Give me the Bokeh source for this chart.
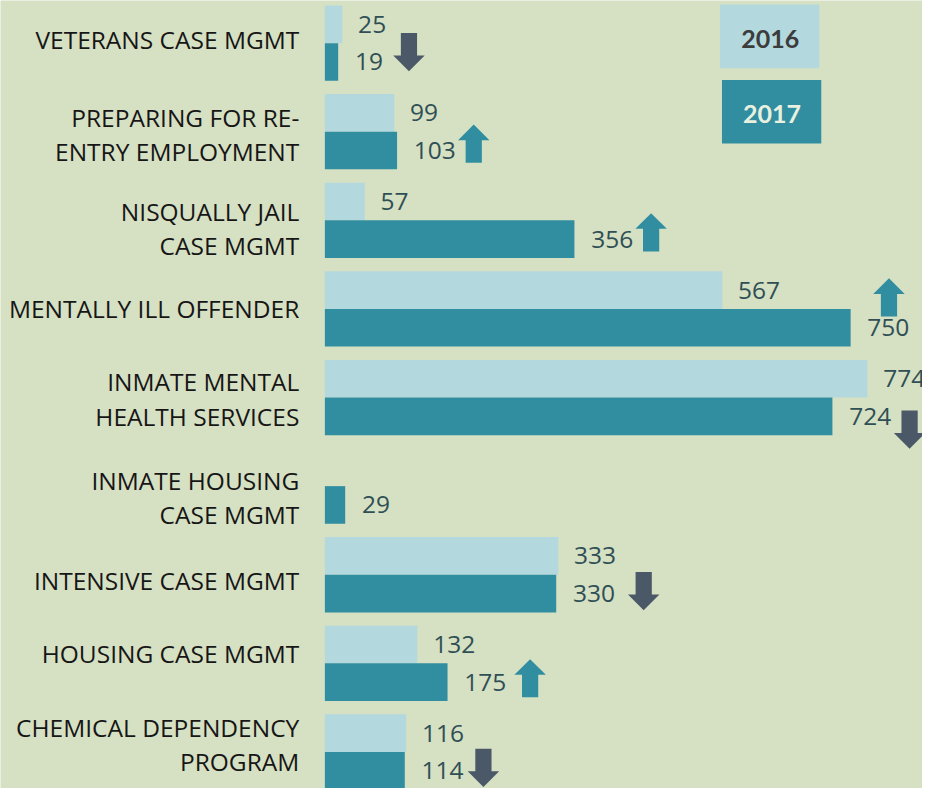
from bokeh.plotting import figure
from bokeh.models import Range1d, ColumnDataSource
from bokeh.core.properties import value
from bokeh.embed import file_html
from bokeh.resources import INLINE

# ---------------- data ----------------
programs = [
    "VETERANS CASE MGMT",
    "PREPARING FOR RE-\nENTRY EMPLOYMENT",
    "NISQUALLY JAIL\nCASE MGMT",
    "MENTALLY ILL OFFENDER",
    "INMATE MENTAL\nHEALTH SERVICES",
    "INMATE HOUSING\nCASE MGMT",
    "INTENSIVE CASE MGMT",
    "HOUSING CASE MGMT",
    "CHEMICAL DEPENDENCY\nPROGRAM",
]
clients_2016 = [25, 99, 57, 567, 774, None, 333, 132, 116]
clients_2017 = [19, 103, 356, 750, 724, 29, 330, 175, 114]
years = ["2016", "2017"]

# ---------------- layout / style ----------------
BG = "#d6e0c3"
C16 = "#b3d9de"
C17 = "#318ea1"
DOWN = "#4b5867"
VAL_COL = "#2f4f55"
FONT = "Open Sans"

W, H = 922, 788                # figure size (design space is 938 x 804)
DW, DH = 938.0, 804.0
X0, K = 330.0, 0.7132          # design px of zero, design px per client
ROW0, PITCH, BAR_H = 43.5, 90.4, 38.4
LINE_GAP = 35
FS = "24.5px"
label_dy = [-4, -15, -9, 0, -16, -6, 6, -10, -25]      # first line vs row centre (px)
arrow_dx = [72, 78, 78, 39, 78.5, 0, 89, 84, 80]          # arrow centre vs bar end (px)
arrow_dy = [-10, -7, -7, -31, 13.5, 0, -2.5, -4, -3]      # arrow centre vs 2017 bar centre (px)


def xd(px):
    return (px - X0) / K


def yd(py):
    return (py - ROW0) / PITCH


p = figure(width=W, height=H, x_range=Range1d(xd(0), xd(DW)),
           y_range=Range1d(yd(DH), yd(0)), output_backend="svg",
           toolbar_location=None, x_axis_location=None, y_axis_location=None,
           min_border=0, outline_line_color=None,
           background_fill_color=BG, border_fill_color=BG)
p.grid.visible = False

half = BAR_H / 2 / PITCH
hgt = BAR_H / PITCH

rows16 = [i for i, v in enumerate(clients_2016) if v is not None]
src16 = ColumnDataSource(dict(y=[i - half for i in rows16],
                              v=[clients_2016[i] for i in rows16],
                              t=[str(clients_2016[i]) for i in rows16],
                              tx=[clients_2016[i] + 16 / K for i in rows16]))
rows17 = list(range(len(clients_2017)))
src17 = ColumnDataSource(dict(y=[i + half for i in rows17],
                              v=clients_2017,
                              t=[str(v) for v in clients_2017],
                              tx=[v + 17 / K for v in clients_2017]))

p.hbar(y="y", left=0, right="v", height=hgt, source=src16, fill_color=C16, line_color=None)
p.hbar(y="y", left=0, right="v", height=hgt, source=src17, fill_color=C17, line_color=None)

for src in (src16, src17):
    p.text(x="tx", y="y", text="t", source=src, text_font=value(FONT),
           text_font_size=FS, text_color=VAL_COL, text_align="left",
           text_baseline="middle")

# category labels
lx, ly, lt = [], [], []
for i, lab in enumerate(programs):
    for j, line in enumerate(lab.split("\n")):
        lx.append(xd(304))
        ly.append(i + (label_dy[i] + j * LINE_GAP) / PITCH)
        lt.append(line)
p.text(x=lx, y=ly, text=lt, text_font=value(FONT), text_font_size=FS,
       text_color="#161616", text_align="right", text_baseline="middle")

# change arrows
axs, ays, acol = [], [], []
for i, (a, b) in enumerate(zip(clients_2016, clients_2017)):
    if a is None:
        continue
    cx = X0 + b * K + arrow_dx[i]
    cy = ROW0 + i * PITCH + BAR_H / 2 + arrow_dy[i]
    s = 1 if b < a else -1  # +1 pointing down
    tip = cy + s * 19.5
    base = cy - s * 19.5
    hb = tip - s * 16
    pts = [(cx - 8.25, base), (cx + 8.25, base), (cx + 8.25, hb), (cx + 16, hb),
           (cx, tip), (cx - 16, hb), (cx - 8.25, hb)]
    axs.append([xd(x) for x, _ in pts])
    ays.append([yd(y) for _, y in pts])
    acol.append(DOWN if b < a else C17)
p.patches(xs=axs, ys=ays, fill_color=acol, line_color=None)

# legend boxes
p.quad(left=[xd(732), xd(734)], right=[xd(833), xd(835)],
       top=[yd(4), yd(81)], bottom=[yd(69), yd(146)],
       fill_color=[C16, C17], line_color=None)
p.text(x=[xd(783), xd(785)], y=[yd(39), yd(115.5)], text=years,
       text_font=value("Lato"), text_font_size="25px", text_font_style="bold",
       text_color=["#3c3c3c", "#e9f0e0"], text_align="center", text_baseline="middle")

open("out.html", "w").write(file_html(p, INLINE))
